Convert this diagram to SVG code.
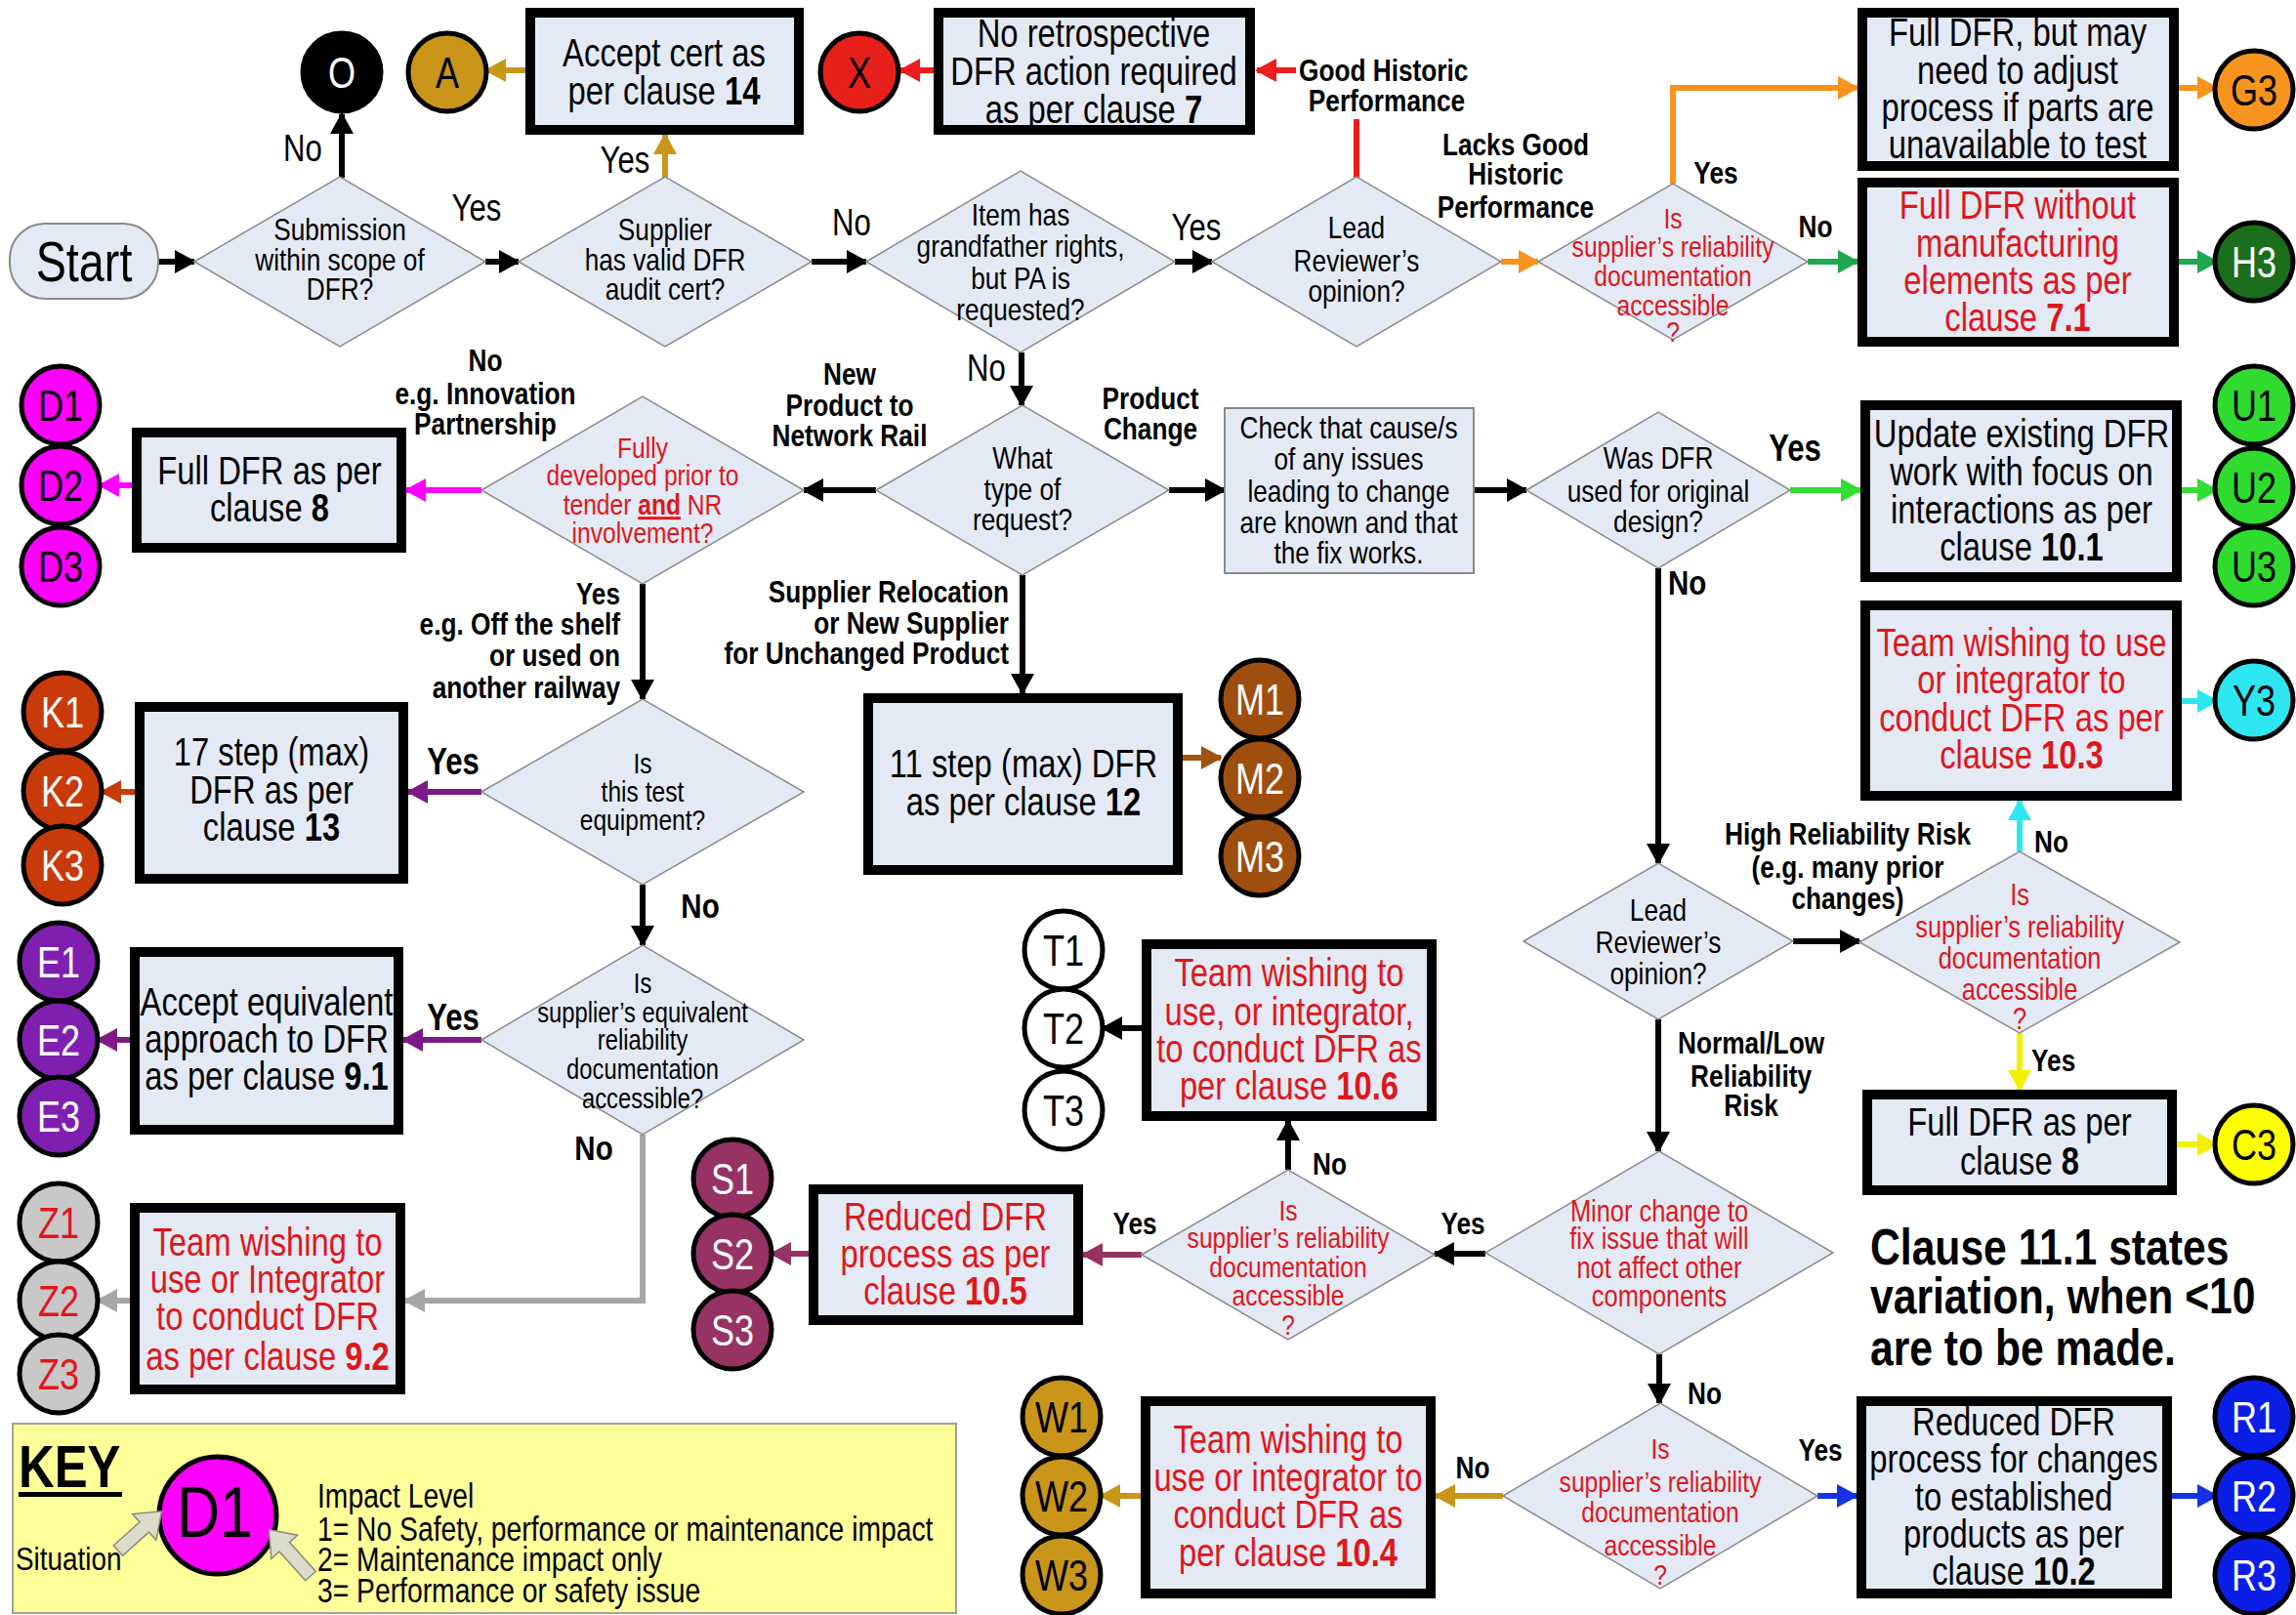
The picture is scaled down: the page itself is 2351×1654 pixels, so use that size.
<svg xmlns="http://www.w3.org/2000/svg" width="2351" height="1654" viewBox="0 0 2351 1654">
<defs>
<style>
text{font-family:"Liberation Sans",Arial,sans-serif;transform-box:fill-box;transform-origin:50% 50%;transform:scaleX(0.82)}
text.st{transform-origin:0% 50%}
text.end{text-anchor:end;transform-origin:100% 50%}
.box{fill:#E4EAF5;stroke:#000;stroke-width:10}
.dia{fill:#E4EAF5;stroke:#8A8A8A;stroke-width:1.5}
.bt{font-size:40px;text-anchor:middle;fill:#000}
.dt{font-size:32px;text-anchor:middle;fill:#000}
.rt{fill:#E0161B}
.b{font-weight:bold}
.lb{font-size:32px;font-weight:bold;fill:#000}
.lr{font-size:38px;fill:#000}
.mid{text-anchor:middle}
.cc{stroke:#000;stroke-width:5}
.ct{font-size:44px;text-anchor:middle}
.ln{fill:none;stroke-width:6}
</style>
<marker id="mk" markerUnits="userSpaceOnUse" markerWidth="22" markerHeight="24" refX="20" refY="12" orient="auto"><path d="M0,0 L22,12 L0,24 z" fill="#000"/></marker>
<marker id="mgold" markerUnits="userSpaceOnUse" markerWidth="22" markerHeight="24" refX="20" refY="12" orient="auto"><path d="M0,0 L22,12 L0,24 z" fill="#C9961A"/></marker>
<marker id="mred" markerUnits="userSpaceOnUse" markerWidth="22" markerHeight="24" refX="20" refY="12" orient="auto"><path d="M0,0 L22,12 L0,24 z" fill="#EE1C1C"/></marker>
<marker id="mora" markerUnits="userSpaceOnUse" markerWidth="22" markerHeight="24" refX="20" refY="12" orient="auto"><path d="M0,0 L22,12 L0,24 z" fill="#F7941D"/></marker>
<marker id="mgrn" markerUnits="userSpaceOnUse" markerWidth="22" markerHeight="24" refX="20" refY="12" orient="auto"><path d="M0,0 L22,12 L0,24 z" fill="#1FA84F"/></marker>
<marker id="mmag" markerUnits="userSpaceOnUse" markerWidth="22" markerHeight="24" refX="20" refY="12" orient="auto"><path d="M0,0 L22,12 L0,24 z" fill="#FF00FF"/></marker>
<marker id="mpur" markerUnits="userSpaceOnUse" markerWidth="22" markerHeight="24" refX="20" refY="12" orient="auto"><path d="M0,0 L22,12 L0,24 z" fill="#7E1A86"/></marker>
<marker id="mkor" markerUnits="userSpaceOnUse" markerWidth="22" markerHeight="24" refX="20" refY="12" orient="auto"><path d="M0,0 L22,12 L0,24 z" fill="#C83A0A"/></marker>
<marker id="mbrn" markerUnits="userSpaceOnUse" markerWidth="22" markerHeight="24" refX="20" refY="12" orient="auto"><path d="M0,0 L22,12 L0,24 z" fill="#A0520F"/></marker>
<marker id="mmar" markerUnits="userSpaceOnUse" markerWidth="22" markerHeight="24" refX="20" refY="12" orient="auto"><path d="M0,0 L22,12 L0,24 z" fill="#963264"/></marker>
<marker id="mgry" markerUnits="userSpaceOnUse" markerWidth="22" markerHeight="24" refX="20" refY="12" orient="auto"><path d="M0,0 L22,12 L0,24 z" fill="#A6A6A6"/></marker>
<marker id="mlim" markerUnits="userSpaceOnUse" markerWidth="22" markerHeight="24" refX="20" refY="12" orient="auto"><path d="M0,0 L22,12 L0,24 z" fill="#33DD33"/></marker>
<marker id="mcya" markerUnits="userSpaceOnUse" markerWidth="22" markerHeight="24" refX="20" refY="12" orient="auto"><path d="M0,0 L22,12 L0,24 z" fill="#2EE6F0"/></marker>
<marker id="myel" markerUnits="userSpaceOnUse" markerWidth="22" markerHeight="24" refX="20" refY="12" orient="auto"><path d="M0,0 L22,12 L0,24 z" fill="#F2F200"/></marker>
<marker id="mblu" markerUnits="userSpaceOnUse" markerWidth="22" markerHeight="24" refX="20" refY="12" orient="auto"><path d="M0,0 L22,12 L0,24 z" fill="#1432E6"/></marker>
</defs>
<rect width="2351" height="1654" fill="#fff"/>

<g id="connectors">
<path class="ln" stroke="#000" marker-end="url(#mk)" d="M162,268 H199"/>
<path class="ln" stroke="#000" marker-end="url(#mk)" d="M350,182 V117"/>
<path class="ln" stroke="#000" marker-end="url(#mk)" d="M497,268 H531"/>
<path class="ln" stroke="#C9961A" marker-end="url(#mgold)" d="M681,182 V138"/>
<path class="ln" stroke="#C9961A" marker-end="url(#mgold)" d="M538,72 H498"/>
<path class="ln" stroke="#000" marker-end="url(#mk)" d="M831,268 H887"/>
<path class="ln" stroke="#EE1C1C" marker-end="url(#mred)" d="M956,72 H922"/>
<path class="ln" stroke="#EE1C1C" d="M1389,182 V122"/>
<path class="ln" stroke="#EE1C1C" marker-end="url(#mred)" d="M1327,72 H1287"/>
<path class="ln" stroke="#000" marker-end="url(#mk)" d="M1203,268 H1241"/>
<path class="ln" stroke="#000" marker-end="url(#mk)" d="M1046,361 V415"/>
<path class="ln" stroke="#F7941D" marker-end="url(#mora)" d="M1537,268 H1575"/>
<path class="ln" stroke="#F7941D" marker-end="url(#mora)" d="M1713,188 V90 H1902"/>
<path class="ln" stroke="#1FA84F" marker-end="url(#mgrn)" d="M1851,268 H1902"/>
<path class="ln" stroke="#F7941D" marker-end="url(#mora)" d="M2231,90 H2270"/>
<path class="ln" stroke="#1FA84F" marker-end="url(#mgrn)" d="M2231,268 H2270"/>
<path class="ln" stroke="#000" marker-end="url(#mk)" d="M897,502 H823"/>
<path class="ln" stroke="#000" marker-end="url(#mk)" d="M1197,502 H1254"/>
<path class="ln" stroke="#000" marker-end="url(#mk)" d="M1509,502 H1563"/>
<path class="ln" stroke="#000" marker-end="url(#mk)" d="M1047,589 V710"/>
<path class="ln" stroke="#A0520F" marker-end="url(#mbrn)" d="M1211,776 H1250"/>
<path class="ln" stroke="#FF00FF" marker-end="url(#mmag)" d="M493,502 H416"/>
<path class="ln" stroke="#FF00FF" marker-end="url(#mmag)" d="M135,497 H102"/>
<path class="ln" stroke="#000" marker-end="url(#mk)" d="M658,598 V716"/>
<path class="ln" stroke="#7E1A86" marker-end="url(#mpur)" d="M493,811 H418"/>
<path class="ln" stroke="#C83A0A" marker-end="url(#mkor)" d="M138,811 H104"/>
<path class="ln" stroke="#000" marker-end="url(#mk)" d="M658,906 V968"/>
<path class="ln" stroke="#7E1A86" marker-end="url(#mpur)" d="M493,1065 H413"/>
<path class="ln" stroke="#7E1A86" marker-end="url(#mpur)" d="M133,1065 H100"/>
<path class="ln" stroke="#A6A6A6" marker-end="url(#mgry)" d="M658,1162 V1332 H415"/>
<path class="ln" stroke="#A6A6A6" marker-end="url(#mgry)" d="M133,1332 H100"/>
<path class="ln" stroke="#33DD33" marker-end="url(#mlim)" d="M1833,502 H1905"/>
<path class="ln" stroke="#33DD33" marker-end="url(#mlim)" d="M2234,502 H2270"/>
<path class="ln" stroke="#000" marker-end="url(#mk)" d="M1698,582 V884"/>
<path class="ln" stroke="#000" marker-end="url(#mk)" d="M1836,964 H1904"/>
<path class="ln" stroke="#2EE6F0" marker-end="url(#mcya)" d="M2068,872 V820"/>
<path class="ln" stroke="#2EE6F0" marker-end="url(#mcya)" d="M2234,718 H2270"/>
<path class="ln" stroke="#F2F200" marker-end="url(#myel)" d="M2068,1058 V1116"/>
<path class="ln" stroke="#F2F200" marker-end="url(#myel)" d="M2229,1172 H2270"/>
<path class="ln" stroke="#000" marker-end="url(#mk)" d="M1698,1044 V1179"/>
<path class="ln" stroke="#000" marker-end="url(#mk)" d="M1521,1284 H1469"/>
<path class="ln" stroke="#000" marker-end="url(#mk)" d="M1319,1198 V1148"/>
<path class="ln" stroke="#000" marker-end="url(#mk)" d="M1169,1053 H1129"/>
<path class="ln" stroke="#963264" marker-end="url(#mmar)" d="M1169,1285 H1109"/>
<path class="ln" stroke="#963264" marker-end="url(#mmar)" d="M828,1284 H790"/>
<path class="ln" stroke="#000" marker-end="url(#mk)" d="M1699,1387 V1437"/>
<path class="ln" stroke="#C9961A" marker-end="url(#mgold)" d="M1539,1532 H1470"/>
<path class="ln" stroke="#C9961A" marker-end="url(#mgold)" d="M1168,1532 H1127"/>
<path class="ln" stroke="#1432E6" marker-end="url(#mblu)" d="M1861,1532 H1901"/>
<path class="ln" stroke="#1432E6" marker-end="url(#mblu)" d="M2224,1532 H2270"/>
</g>

<g id="labels">
<text class="lr mid" x="310" y="165">No</text>
<text class="lr mid" x="640" y="177">Yes</text>
<text class="lr mid" x="488" y="226">Yes</text>
<text class="lr mid" x="872" y="241">No</text>
<text class="lr mid" x="1225" y="246">Yes</text>
<text class="lr mid" x="1010" y="390">No</text>
<text class="lb st" x="1330" y="83">Good Historic</text>
<text class="lb mid" x="1420" y="114">Performance</text>
<text class="lb mid" x="1552" y="159">Lacks Good</text>
<text class="lb mid" x="1552" y="189">Historic</text>
<text class="lb mid" x="1552" y="223">Performance</text>
<text class="lb mid" x="1757" y="188">Yes</text>
<text class="lb mid" x="1859" y="243">No</text>
<text class="lb mid" x="497" y="380">No</text>
<text class="lb mid" x="497" y="414">e.g. Innovation</text>
<text class="lb mid" x="497" y="445">Partnership</text>
<text class="lb mid" x="870" y="394">New</text>
<text class="lb mid" x="870" y="426">Product to</text>
<text class="lb mid" x="870" y="457">Network Rail</text>
<text class="lb mid" x="1178" y="419">Product</text>
<text class="lb mid" x="1178" y="450">Change</text>
<text class="lb end" x="635" y="619">Yes</text>
<text class="lb end" x="635" y="650">e.g. Off the shelf</text>
<text class="lb end" x="635" y="682">or used on</text>
<text class="lb end" x="635" y="715">another railway</text>
<text class="lb end" x="1033" y="617">Supplier Relocation</text>
<text class="lb end" x="1033" y="649">or New Supplier</text>
<text class="lb end" x="1033" y="680">for Unchanged Product</text>
<text class="lb mid" x="1838" y="472" style="font-size:38px">Yes</text>
<text class="lb st" x="1708" y="609" style="font-size:36px">No</text>
<text class="lb mid" x="464" y="793" style="font-size:38px">Yes</text>
<text class="lb mid" x="717" y="940" style="font-size:36px">No</text>
<text class="lb mid" x="464" y="1055" style="font-size:38px">Yes</text>
<text class="lb mid" x="608" y="1188" style="font-size:36px">No</text>
<text class="lb mid" x="1892" y="865">High Reliability Risk</text>
<text class="lb mid" x="1892" y="899">(e.g. many prior</text>
<text class="lb mid" x="1892" y="931">changes)</text>
<text class="lb st" x="2083" y="873">No</text>
<text class="lb st" x="2080" y="1097">Yes</text>
<text class="lb mid" x="1793" y="1079">Normal/Low</text>
<text class="lb mid" x="1793" y="1113">Reliability</text>
<text class="lb mid" x="1793" y="1143">Risk</text>
<text class="lb st" x="1344" y="1203">No</text>
<text class="lb mid" x="1498" y="1264">Yes</text>
<text class="lb mid" x="1162" y="1264">Yes</text>
<text class="lb st" x="1728" y="1438">No</text>
<text class="lb mid" x="1508" y="1514">No</text>
<text class="lb mid" x="1864" y="1496">Yes</text>
<text class="lb st" x="1915" y="1295" style="font-size:52px">Clause 11.1 states</text>
<text class="lb st" x="1915" y="1345" style="font-size:52px">variation, when &lt;10</text>
<text class="lb st" x="1915" y="1398" style="font-size:52px">are to be made.</text>
</g>

<g id="n-start">
<rect x="10" y="229" width="152" height="77" rx="36" fill="#E4EAF5" stroke="#8A8A8A" stroke-width="2"/>
<text x="86" y="288" font-size="57" text-anchor="middle">Start</text>
</g>

<g id="n-d1"><polygon class="dia" points="199,268 348,181 497,268 348,355"/>
<text class="dt"><tspan x="348" y="246">Submission</tspan><tspan x="348" y="277">within scope of</tspan><tspan x="348" y="307">DFR?</tspan></text></g>
<g id="n-d2"><polygon class="dia" points="531,268 681,181 831,268 681,355"/>
<text class="dt"><tspan x="681" y="246">Supplier</tspan><tspan x="681" y="277">has valid DFR</tspan><tspan x="681" y="307">audit cert?</tspan></text></g>
<g id="n-d3"><polygon class="dia" points="887,268 1045,175 1203,268 1045,361"/>
<text class="dt"><tspan x="1045" y="231">Item has</tspan><tspan x="1045" y="263">grandfather rights,</tspan><tspan x="1045" y="296">but PA is</tspan><tspan x="1045" y="328">requested?</tspan></text></g>
<g id="n-d4"><polygon class="dia" points="1241,268 1389,181 1537,268 1389,355"/>
<text class="dt"><tspan x="1389" y="244">Lead</tspan><tspan x="1389" y="278">Reviewer’s</tspan><tspan x="1389" y="309">opinion?</tspan></text></g>
<g id="n-d5"><polygon class="dia" points="1575,268 1713,188 1851,268 1713,348"/>
<text class="dt rt" style="font-size:30px"><tspan x="1713" y="234">Is</tspan><tspan x="1713" y="263">supplier’s reliability</tspan><tspan x="1713" y="293">documentation</tspan><tspan x="1713" y="323">accessible</tspan><tspan x="1713" y="350">?</tspan></text></g>
<g id="n-d6"><polygon class="dia" points="493,502 658,406 823,502 658,598"/>
<text class="dt rt" style="font-size:30px"><tspan x="658" y="469">Fully</tspan><tspan x="658" y="497">developed prior to</tspan><tspan x="658" y="527">tender <tspan class="b" text-decoration="underline">and</tspan> NR</tspan><tspan x="658" y="556">involvement?</tspan></text></g>
<g id="n-d7"><polygon class="dia" points="493,811 658,716 823,811 658,906"/>
<text class="dt" style="font-size:30px"><tspan x="658" y="792">Is</tspan><tspan x="658" y="821">this test</tspan><tspan x="658" y="850">equipment?</tspan></text></g>
<g id="n-d8"><polygon class="dia" points="897,502 1047,415 1197,502 1047,589"/>
<text class="dt"><tspan x="1047" y="480">What</tspan><tspan x="1047" y="512">type of</tspan><tspan x="1047" y="543">request?</tspan></text></g>
<g id="n-check"><rect x="1254" y="418" width="255" height="169" fill="#E4EAF5" stroke="#8A8A8A" stroke-width="2"/>
<text class="dt"><tspan x="1381" y="449">Check that cause/s</tspan><tspan x="1381" y="481">of any issues</tspan><tspan x="1381" y="514">leading to change</tspan><tspan x="1381" y="546">are known and that</tspan><tspan x="1381" y="577">the fix works.</tspan></text></g>
<g id="n-d9"><polygon class="dia" points="1563,502 1698,422 1833,502 1698,582"/>
<text class="dt"><tspan x="1698" y="480">Was DFR</tspan><tspan x="1698" y="514">used for original</tspan><tspan x="1698" y="545">design?</tspan></text></g>
<g id="n-d10"><polygon class="dia" points="1560,964 1698,884 1836,964 1698,1044"/>
<text class="dt"><tspan x="1698" y="943">Lead</tspan><tspan x="1698" y="976">Reviewer’s</tspan><tspan x="1698" y="1008">opinion?</tspan></text></g>
<g id="n-d11"><polygon class="dia" points="1904,965 2068,872 2232,965 2068,1058"/>
<text class="dt rt" style="font-size:31px"><tspan x="2068" y="927">Is</tspan><tspan x="2068" y="960">supplier’s reliability</tspan><tspan x="2068" y="992">documentation</tspan><tspan x="2068" y="1024">accessible</tspan><tspan x="2068" y="1054">?</tspan></text></g>
<g id="n-d12"><polygon class="dia" points="1521,1283 1699,1179 1877,1283 1699,1387"/>
<text class="dt rt" style="font-size:31px"><tspan x="1699" y="1251">Minor change to</tspan><tspan x="1699" y="1279">fix issue that will</tspan><tspan x="1699" y="1309">not affect other</tspan><tspan x="1699" y="1338">components</tspan></text></g>
<g id="n-d13"><polygon class="dia" points="1169,1285 1319,1198 1469,1285 1319,1372"/>
<text class="dt rt" style="font-size:30px"><tspan x="1319" y="1250">Is</tspan><tspan x="1319" y="1278">supplier’s reliability</tspan><tspan x="1319" y="1308">documentation</tspan><tspan x="1319" y="1337">accessible</tspan><tspan x="1319" y="1367">?</tspan></text></g>
<g id="n-d14"><polygon class="dia" points="493,1065 658,968 823,1065 658,1162"/>
<text class="dt" style="font-size:29px"><tspan x="658" y="1017">Is</tspan><tspan x="658" y="1047">supplier’s equivalent</tspan><tspan x="658" y="1075">reliability</tspan><tspan x="658" y="1105">documentation</tspan><tspan x="658" y="1135">accessible?</tspan></text></g>
<g id="n-d15"><polygon class="dia" points="1539,1532 1700,1437 1861,1532 1700,1627"/>
<text class="dt rt" style="font-size:30px"><tspan x="1700" y="1494">Is</tspan><tspan x="1700" y="1528">supplier’s reliability</tspan><tspan x="1700" y="1559">documentation</tspan><tspan x="1700" y="1593">accessible</tspan><tspan x="1700" y="1623">?</tspan></text></g>

<g id="n-accept"><rect class="box" x="543" y="13" width="275" height="120"/>
<text class="bt"><tspan x="680" y="68">Accept cert as</tspan><tspan x="680" y="107">per clause <tspan class="b">14</tspan></tspan></text></g>
<g id="n-retro"><rect class="box" x="961" y="13" width="319" height="120"/>
<text class="bt"><tspan x="1120" y="48">No retrospective</tspan><tspan x="1120" y="87">DFR action required</tspan><tspan x="1120" y="126">as per clause <tspan class="b">7</tspan></tspan></text></g>
<g id="n-g3box"><rect class="box" x="1907" y="13" width="319" height="157"/>
<text class="bt"><tspan x="2066" y="47">Full DFR, but may</tspan><tspan x="2066" y="86">need to adjust</tspan><tspan x="2066" y="124">process if parts are</tspan><tspan x="2066" y="162">unavailable to test</tspan></text></g>
<g id="n-h3box"><rect class="box" x="1907" y="187" width="319" height="163"/>
<text class="bt rt"><tspan x="2066" y="224">Full DFR without</tspan><tspan x="2066" y="263">manufacturing</tspan><tspan x="2066" y="301">elements as per</tspan><tspan x="2066" y="339">clause <tspan class="b">7.1</tspan></tspan></text></g>
<g id="n-full8"><rect class="box" x="140" y="443" width="271" height="118"/>
<text class="bt"><tspan x="276" y="496">Full DFR as per</tspan><tspan x="276" y="534">clause <tspan class="b">8</tspan></tspan></text></g>
<g id="n-ubox"><rect class="box" x="1910" y="415" width="319" height="176"/>
<text class="bt"><tspan x="2070" y="458">Update existing DFR</tspan><tspan x="2070" y="497">work with focus on</tspan><tspan x="2070" y="536">interactions as per</tspan><tspan x="2070" y="574">clause <tspan class="b">10.1</tspan></tspan></text></g>
<g id="n-11step"><rect class="box" x="889" y="715" width="317" height="176"/>
<text class="bt"><tspan x="1048" y="796">11 step (max) DFR</tspan><tspan x="1048" y="835">as per clause <tspan class="b">12</tspan></tspan></text></g>
<g id="n-17step"><rect class="box" x="143" y="724" width="270" height="176"/>
<text class="bt"><tspan x="278" y="784">17 step (max)</tspan><tspan x="278" y="823">DFR as per</tspan><tspan x="278" y="861">clause <tspan class="b">13</tspan></tspan></text></g>
<g id="n-y3box"><rect class="box" x="1910" y="620" width="319" height="195"/>
<text class="bt rt"><tspan x="2070" y="672">Team wishing to use</tspan><tspan x="2070" y="710">or integrator to</tspan><tspan x="2070" y="749">conduct DFR as per</tspan><tspan x="2070" y="787">clause <tspan class="b">10.3</tspan></tspan></text></g>
<g id="n-equiv"><rect class="box" x="138" y="975" width="270" height="182"/>
<text class="bt"><tspan x="273" y="1040">Accept equivalent</tspan><tspan x="273" y="1078">approach to DFR</tspan><tspan x="273" y="1116">as per clause <tspan class="b">9.1</tspan></tspan></text></g>
<g id="n-106"><rect class="box" x="1174" y="967" width="292" height="176"/>
<text class="bt rt"><tspan x="1320" y="1010">Team wishing to</tspan><tspan x="1320" y="1050">use, or integrator,</tspan><tspan x="1320" y="1088">to conduct DFR as</tspan><tspan x="1320" y="1126">per clause <tspan class="b">10.6</tspan></tspan></text></g>
<g id="n-c3box"><rect class="box" x="1912" y="1121" width="312" height="98"/>
<text class="bt"><tspan x="2068" y="1163">Full DFR as per</tspan><tspan x="2068" y="1203">clause <tspan class="b">8</tspan></tspan></text></g>
<g id="n-105"><rect class="box" x="833" y="1218" width="271" height="134"/>
<text class="bt rt"><tspan x="968" y="1260">Reduced DFR</tspan><tspan x="968" y="1298">process as per</tspan><tspan x="968" y="1336">clause <tspan class="b">10.5</tspan></tspan></text></g>
<g id="n-zbox"><rect class="box" x="138" y="1237" width="272" height="186"/>
<text class="bt rt"><tspan x="274" y="1286">Team wishing to</tspan><tspan x="274" y="1324">use or Integrator</tspan><tspan x="274" y="1362">to conduct DFR</tspan><tspan x="274" y="1403">as per clause <tspan class="b">9.2</tspan></tspan></text></g>
<g id="n-wbox"><rect class="box" x="1173" y="1435" width="292" height="197"/>
<text class="bt rt"><tspan x="1319" y="1488">Team wishing to</tspan><tspan x="1319" y="1527">use or integrator to</tspan><tspan x="1319" y="1565">conduct DFR as</tspan><tspan x="1319" y="1604">per clause <tspan class="b">10.4</tspan></tspan></text></g>
<g id="n-rbox"><rect class="box" x="1906" y="1435" width="313" height="197"/>
<text class="bt"><tspan x="2062" y="1470">Reduced DFR</tspan><tspan x="2062" y="1508">process for changes</tspan><tspan x="2062" y="1547">to established</tspan><tspan x="2062" y="1585">products as per</tspan><tspan x="2062" y="1623">clause <tspan class="b">10.2</tspan></tspan></text></g>

<g id="n-O"><circle class="cc" cx="350" cy="74" r="40" fill="#000"/><text class="ct" x="350" y="90" fill="#fff">O</text></g>
<g id="n-A"><circle class="cc" cx="458" cy="74" r="40" fill="#C9961A"/><text class="ct" x="458" y="90">A</text></g>
<g id="n-X"><circle class="cc" cx="880" cy="74" r="40" fill="#E8201C"/><text class="ct" x="880" y="90">X</text></g>
<g id="n-G3"><circle class="cc" cx="2308" cy="92" r="40" fill="#F7941D"/><text class="ct" x="2308" y="108">G3</text></g>
<g id="n-H3"><circle class="cc" cx="2308" cy="268" r="40" fill="#1B6E1B"/><text class="ct" x="2308" y="284" fill="#fff">H3</text></g>
<g id="n-D"><circle class="cc" cx="62" cy="415" r="40" fill="#FF00FF"/><text class="ct" x="62" y="431">D1</text>
<circle class="cc" cx="62" cy="497" r="40" fill="#FF00FF"/><text class="ct" x="62" y="513">D2</text>
<circle class="cc" cx="62" cy="580" r="40" fill="#FF00FF"/><text class="ct" x="62" y="596">D3</text></g>
<g id="n-K"><circle class="cc" cx="64" cy="729" r="40" fill="#C83A0A"/><text class="ct" x="64" y="745" fill="#fff">K1</text>
<circle class="cc" cx="64" cy="810" r="40" fill="#C83A0A"/><text class="ct" x="64" y="826" fill="#fff">K2</text>
<circle class="cc" cx="64" cy="886" r="40" fill="#C83A0A"/><text class="ct" x="64" y="902" fill="#fff">K3</text></g>
<g id="n-M"><circle class="cc" cx="1290" cy="716" r="40" fill="#9E4E0E"/><text class="ct" x="1290" y="732" fill="#fff">M1</text>
<circle class="cc" cx="1290" cy="797" r="40" fill="#9E4E0E"/><text class="ct" x="1290" y="813" fill="#fff">M2</text>
<circle class="cc" cx="1290" cy="877" r="40" fill="#9E4E0E"/><text class="ct" x="1290" y="893" fill="#fff">M3</text></g>
<g id="n-U"><circle class="cc" cx="2308" cy="415" r="40" fill="#2EDB2E"/><text class="ct" x="2308" y="431">U1</text>
<circle class="cc" cx="2308" cy="499" r="40" fill="#2EDB2E"/><text class="ct" x="2308" y="515">U2</text>
<circle class="cc" cx="2308" cy="580" r="40" fill="#2EDB2E"/><text class="ct" x="2308" y="596">U3</text></g>
<g id="n-Y3"><circle class="cc" cx="2308" cy="717" r="40" fill="#2EE6F0"/><text class="ct" x="2308" y="733">Y3</text></g>
<g id="n-C3"><circle class="cc" cx="2308" cy="1172" r="40" fill="#FFFF00"/><text class="ct" x="2308" y="1188">C3</text></g>
<g id="n-E"><circle class="cc" cx="60" cy="985" r="40" fill="#7F1FAF"/><text class="ct" x="60" y="1001" fill="#fff">E1</text>
<circle class="cc" cx="60" cy="1065" r="40" fill="#7F1FAF"/><text class="ct" x="60" y="1081" fill="#fff">E2</text>
<circle class="cc" cx="60" cy="1143" r="40" fill="#7F1FAF"/><text class="ct" x="60" y="1159" fill="#fff">E3</text></g>
<g id="n-T"><circle class="cc" cx="1089" cy="973" r="40" fill="#fff"/><text class="ct" x="1089" y="989">T1</text>
<circle class="cc" cx="1089" cy="1053" r="40" fill="#fff"/><text class="ct" x="1089" y="1069">T2</text>
<circle class="cc" cx="1089" cy="1137" r="40" fill="#fff"/><text class="ct" x="1089" y="1153">T3</text></g>
<g id="n-S"><circle class="cc" cx="750" cy="1207" r="40" fill="#963264"/><text class="ct" x="750" y="1223" fill="#fff">S1</text>
<circle class="cc" cx="750" cy="1284" r="40" fill="#963264"/><text class="ct" x="750" y="1300" fill="#fff">S2</text>
<circle class="cc" cx="750" cy="1362" r="40" fill="#963264"/><text class="ct" x="750" y="1378" fill="#fff">S3</text></g>
<g id="n-Z"><circle class="cc" cx="60" cy="1252" r="40" fill="#C8C8C8"/><text class="ct rt" x="60" y="1268">Z1</text>
<circle class="cc" cx="60" cy="1332" r="40" fill="#C8C8C8"/><text class="ct rt" x="60" y="1348">Z2</text>
<circle class="cc" cx="60" cy="1407" r="40" fill="#C8C8C8"/><text class="ct rt" x="60" y="1423">Z3</text></g>
<g id="n-W"><circle class="cc" cx="1087" cy="1451" r="40" fill="#C9961A"/><text class="ct" x="1087" y="1467">W1</text>
<circle class="cc" cx="1087" cy="1532" r="40" fill="#C9961A"/><text class="ct" x="1087" y="1548">W2</text>
<circle class="cc" cx="1087" cy="1613" r="40" fill="#C9961A"/><text class="ct" x="1087" y="1629">W3</text></g>
<g id="n-R"><circle class="cc" cx="2308" cy="1451" r="40" fill="#0A1EE8"/><text class="ct" x="2308" y="1467" fill="#fff">R1</text>
<circle class="cc" cx="2308" cy="1532" r="40" fill="#0A1EE8"/><text class="ct" x="2308" y="1548" fill="#fff">R2</text>
<circle class="cc" cx="2308" cy="1613" r="40" fill="#0A1EE8"/><text class="ct" x="2308" y="1629" fill="#fff">R3</text></g>

<g id="key">
<rect x="13" y="1458" width="966" height="194" fill="#FFFF99" stroke="#A0A0A0" stroke-width="2"/>
<text class="st" x="19" y="1523" font-size="62" font-weight="bold">KEY</text>
<rect x="19" y="1528" width="106" height="5" fill="#000"/>
<circle cx="223" cy="1552" r="60" fill="#FF00FF" stroke="#000" stroke-width="5"/>
<text x="220" y="1574" font-size="74" text-anchor="middle">D1</text>
<polygon points="0,-7 36,-7 36,-18 60,0 36,18 36,7 0,7" fill="#DCDCCC" stroke="#8A8A7A" stroke-width="1.5" transform="translate(121,1588) rotate(-42)"/>
<polygon points="0,-7 40,-7 40,-18 64,0 40,18 40,7 0,7" fill="#DCDCCC" stroke="#8A8A7A" stroke-width="1.5" transform="translate(318,1614) rotate(-132)"/>
<text class="st" x="16" y="1608" font-size="34">Situation</text>
<text class="st" font-size="34.5"><tspan x="325" y="1544">Impact Level</tspan><tspan x="325" y="1578">1= No Safety, performance or maintenance impact</tspan><tspan x="325" y="1609">2= Maintenance impact only</tspan><tspan x="325" y="1641">3= Performance or safety issue</tspan></text>
</g>
</svg>
